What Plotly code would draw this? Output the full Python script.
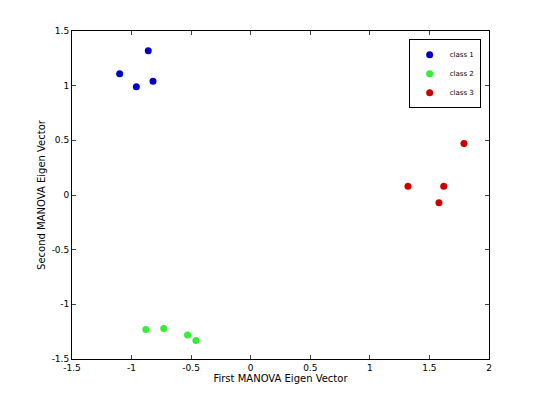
import plotly.graph_objects as go

class1_x = [-1.10, -0.86, -0.96, -0.82]
class1_y = [1.11, 1.32, 0.99, 1.04]
class2_x = [-0.88, -0.73, -0.53, -0.46]
class2_y = [-1.23, -1.22, -1.28, -1.33]
class3_x = [1.32, 1.62, 1.58, 1.79]
class3_y = [0.08, 0.08, -0.07, 0.47]

x_ticks = [-1.5, -1, -0.5, 0, 0.5, 1, 1.5, 2]
y_ticks = [-1.5, -1, -0.5, 0, 0.5, 1, 1.5]

fig = go.Figure()
for xs, ys, name, color in [
    (class1_x, class1_y, "class 1", "#0000c8"),
    (class2_x, class2_y, "class 2", "#33ee33"),
    (class3_x, class3_y, "class 3", "#cc0000"),
]:
    fig.add_trace(go.Scatter(x=xs, y=ys, mode="markers", name=name,
                             marker=dict(color=color, size=7)))

axis_common = dict(showgrid=False, zeroline=False, showline=True, mirror="ticks",
                   linecolor="black", linewidth=1, ticks="inside", ticklen=4,
                   tickfont=dict(size=9, color="black"))
fig.update_xaxes(range=[-1.5, 2], tickvals=x_ticks,
                 ticktext=[f"{v:g}" for v in x_ticks],
                 title=dict(text="First MANOVA Eigen Vector", font=dict(size=10), standoff=0),
                 **axis_common)
fig.update_yaxes(range=[-1.5, 1.5], tickvals=y_ticks,
                 ticktext=[f"{v:g}" for v in y_ticks],
                 title=dict(text="Second MANOVA Eigen Vector", font=dict(size=10), standoff=4),
                 **axis_common)
fig.update_layout(
    width=540, height=405,
    margin=dict(l=64, r=59, t=23, b=54),
    plot_bgcolor="white", paper_bgcolor="white",
    font=dict(family="DejaVu Sans", color="black"),
    legend=dict(x=0.98, y=0.975, xanchor="right", yanchor="top",
                bordercolor="black", borderwidth=1, font=dict(size=7),
                tracegroupgap=0, itemwidth=30),
)
fig.write_html("out.html")
